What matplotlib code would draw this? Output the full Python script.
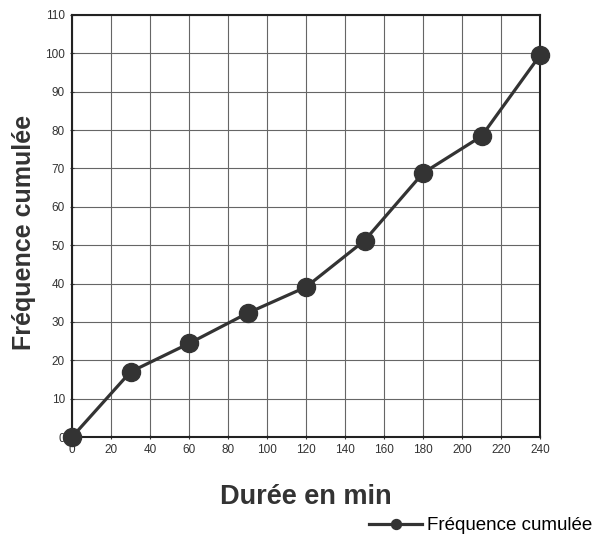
import matplotlib.pyplot as plt

plt.rcParams["font.family"] = ["Liberation Sans", "DejaVu Sans"]

duree = [0, 30, 60, 90, 120, 150, 180, 210, 240]
freq_cumulee = [0, 17, 24.4, 32.3, 39.1, 51.2, 68.8, 78.4, 99.5]
x_ticks = list(range(0, 241, 20))
y_ticks = list(range(0, 111, 10))

fig = plt.figure(figsize=(6.0, 5.35), dpi=100)
ax = fig.add_axes([0.12, 0.183, 0.78, 0.789])

line, = ax.plot(duree, freq_cumulee, color="#333333", linewidth=2.3,
                marker="o", markersize=13, label="Fréquence cumulée",
                clip_on=False, zorder=5)

ax.set_xlim(0, 240)
ax.set_ylim(0, 110)
ax.set_xticks(x_ticks)
ax.set_yticks(y_ticks)
ax.tick_params(labelsize=8.5, length=3, direction="inout", color="#333333", labelcolor="#333333")
ax.grid(True, color="#666666", linewidth=0.8)
for sp in ax.spines.values():
    sp.set_color("#222222")
    sp.set_linewidth(1.5)

ax.set_xlabel("Durée en min", fontsize=19.5, fontweight="bold", color="#333333",
              va="center")
ax.xaxis.set_label_coords(0.5, -0.142)
ax.set_ylabel("Fréquence cumulée", fontsize=18, fontweight="bold", color="#333333",
              va="center")
ax.yaxis.set_label_coords(-0.102, 0.485)

fig.legend(handles=[line], loc="lower right", bbox_to_anchor=(1.016, -0.03),
           frameon=False, fontsize=13.5, handlelength=2.8, handletextpad=0.3,
           markerscale=0.55)

fig.savefig("out.png", dpi=100)
